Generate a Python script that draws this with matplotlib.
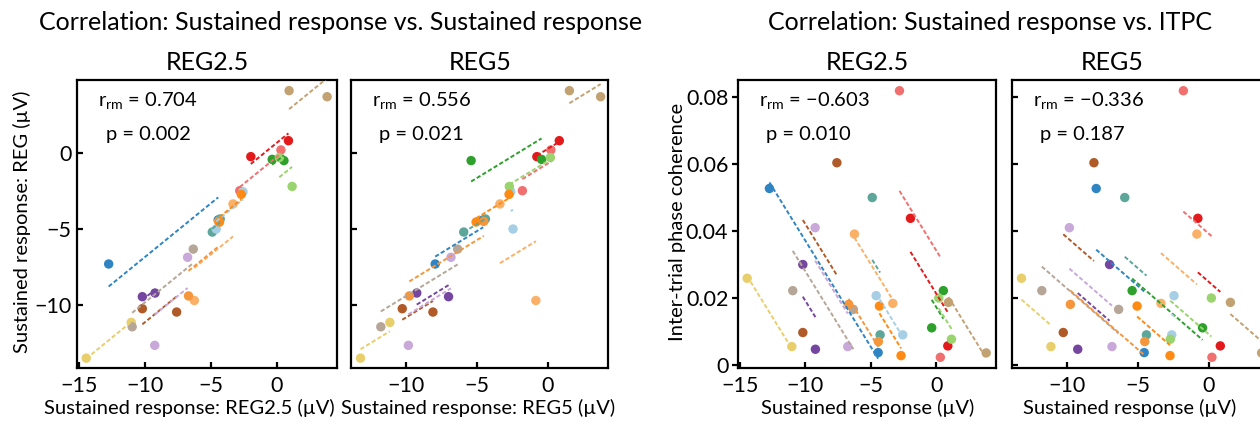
import numpy as np
import matplotlib
matplotlib.use("Agg")
import matplotlib.pyplot as plt

plt.rcParams['font.family'] = ['Lato', 'DejaVu Sans']
plt.rcParams['mathtext.fontset'] = 'custom'
plt.rcParams['mathtext.rm'] = 'Lato'
plt.rcParams['mathtext.it'] = 'Lato:italic'

# ---------------- data (16 participants x 2 measurements) ----------------
colors = ['#f07070', '#b05a28', '#2f84c4', '#5ca69a', '#e31a1c', '#c9a8da',
          '#fbb068', '#7446a0', '#e8cf6c', '#b6a698', '#2ea02c', '#a6cfe6',
          '#9ad46e', '#c2a272', '#f5963c', '#ff8a14']

# sustained response REG2.5 (x of panels 1 & 3)
x_reg25 = [[-2.82, 0.30], [-7.60, -10.20], [-12.75, -4.45], [-4.90, -4.30],
           [-1.98, 0.87], [-9.26, -6.77], [-6.26, -3.33], [-10.20, -9.24],
           [-14.45, -11.04], [-10.97, -6.34], [0.53, -0.36], [-4.60, -2.57],
           [0.18, 1.15], [0.92, 3.80], [-6.70, -4.43], [-4.35, -2.70]]
# sustained response REG5 (x of panels 2 & 4)
x_reg5 = [[-1.80, 0.21], [-8.10, -10.26], [-7.94, -4.56], [-5.93, -4.40],
          [-0.78, 0.80], [-9.83, -6.83], [-0.85, -3.38], [-7.00, -9.24],
          [-13.20, -11.13], [-11.77, -6.36], [-5.41, -0.45], [-2.46, -2.62],
          [0.17, -2.72], [1.51, 3.71], [-9.76, -4.52], [-5.06, -2.74]]
# sustained response REG (y of panels 1 & 2)
y_reg = [[-2.48, 0.20], [-10.46, -10.24], [-7.30, -4.40], [-5.20, -4.34],
         [-0.24, 0.81], [-12.65, -6.86], [-9.70, -3.35], [-9.45, -9.21],
         [-13.49, -11.14], [-11.43, -6.32], [-0.50, -0.42], [-5.00, -2.55],
         [-0.30, -2.20], [4.10, 3.70], [-9.40, -4.50], [-4.54, -2.72]]
# inter-trial phase coherence (y of panels 3 & 4)
itpc = [[0.0819, 0.0023], [0.0604, 0.0097], [0.0527, 0.0037], [0.0500, 0.0090],
        [0.0438, 0.0057], [0.0410, 0.0055], [0.0391, 0.0184], [0.0300, 0.0047],
        [0.0259, 0.0055], [0.0222, 0.0166], [0.0222, 0.0111], [0.0207, 0.0090],
        [0.0200, 0.0077], [0.0187, 0.0036], [0.0181, 0.0070], [0.0176, 0.0028]]

r_text = ['0.704', '0.556', '\u22120.603', '\u22120.336']
p_text = ['0.002', '0.021', '0.010', '0.187']
subtitles = ['REG2.5', 'REG5', 'REG2.5', 'REG5']
xlabels = ['Sustained response: REG2.5 (\u00b5V)', 'Sustained response: REG5 (\u00b5V)',
           'Sustained response (\u00b5V)', 'Sustained response (\u00b5V)']

W, H = 1260, 425
fig = plt.figure(figsize=(W / 100, H / 100), dpi=100)

def px_axes(l, r, t, b):
    return fig.add_axes([l / W, 1 - b / H, (r - l) / W, (b - t) / H])

ax1 = px_axes(77, 337, 80, 368)
ax2 = px_axes(351, 608, 80, 368)
ax3 = px_axes(738, 996, 80, 368)
ax4 = px_axes(1012, 1269, 80, 368)
axes = [ax1, ax2, ax3, ax4]
xs = [x_reg25, x_reg5, x_reg25, x_reg5]
ys = [y_reg, y_reg, itpc, itpc]


def rmcorr_plot(ax, X, Y):
    X = np.asarray(X, float)
    Y = np.asarray(Y, float)
    xm = X.mean(axis=1, keepdims=True)
    ym = Y.mean(axis=1, keepdims=True)
    slope = ((X - xm) * (Y - ym)).sum() / ((X - xm) ** 2).sum()
    for i, c in enumerate(colors):
        ax.scatter(X[i], Y[i], s=46, color=c, edgecolors='none', zorder=3)
    for i, c in enumerate(colors):
        xx = np.array([X[i].min(), X[i].max()])
        yy = ym[i, 0] + slope * (xx - xm[i, 0])
        ax.plot(xx, yy, color=c, lw=1.4, ls=(0, (2.2, 1.2)), zorder=4)


for k, ax in enumerate(axes):
    rmcorr_plot(ax, xs[k], ys[k])
    for s in ax.spines.values():
        s.set_linewidth(1.6)
    ax.text(0.08, 0.93, r'r$_{\mathrm{rm}}$ = ' + r_text[k], transform=ax.transAxes,
            fontsize=14.5, va='center', ha='left')
    ax.text(0.11, 0.81, 'p = ' + p_text[k], transform=ax.transAxes,
            fontsize=14.5, va='center', ha='left')

# ticks first, then limits
for ax in (ax1, ax2, ax3, ax4):
    ax.set_xticks([-15, -10, -5, 0])
for ax in (ax1, ax2):
    ax.set_yticks([-10, -5, 0])
    ax.set_ylim(-14.14, 4.80)
for ax in (ax3, ax4):
    ax.set_yticks([0, 0.02, 0.04, 0.06, 0.08])
    ax.set_ylim(-0.0009, 0.0851)
ax3.set_yticklabels(['0', '0.02', '0.04', '0.06', '0.08'])
ax1.set_xlim(-15.15, 4.55)
ax3.set_xlim(-15.15, 4.55)
ax2.set_xlim(-13.87, 4.23)
ax4.set_xlim(-13.87, 4.23)

for ax in axes:
    ax.tick_params(axis='both', labelsize=15.5, length=4, width=1.6, direction='in', pad=6)
ax3.tick_params(axis='y', direction='out', pad=3)
ax1.tick_params(axis='y', pad=4)
ax2.tick_params(axis='y', labelleft=False)
ax4.tick_params(axis='y', labelleft=False)

# labels
xlab_centers = [189, 478, 868, 1130]
for k in range(4):
    fig.text(xlab_centers[k] / W, 1 - 408 / H, xlabels[k], ha='center', va='center', fontsize=14.5)
fig.text(22 / W, 1 - 222 / H, 'Sustained response: REG (\u00b5V)', rotation=90,
         ha='center', va='center', fontsize=14.5)
fig.text(678 / W, 1 - 222 / H, 'Inter-trial phase coherence', rotation=90,
         ha='center', va='center', fontsize=14.5)

sub_centers = [207, 480, 867, 1112]
for k in range(4):
    fig.text(sub_centers[k] / W, 1 - 62 / H, subtitles[k], ha='center', va='center', fontsize=18)
fig.text(341 / W, 1 - 22 / H, 'Correlation: Sustained response vs. Sustained response',
         ha='center', va='center', fontsize=18)
fig.text(990 / W, 1 - 22 / H, 'Correlation: Sustained response vs. ITPC',
         ha='center', va='center', fontsize=18)

fig.savefig('out.png', dpi=100)
